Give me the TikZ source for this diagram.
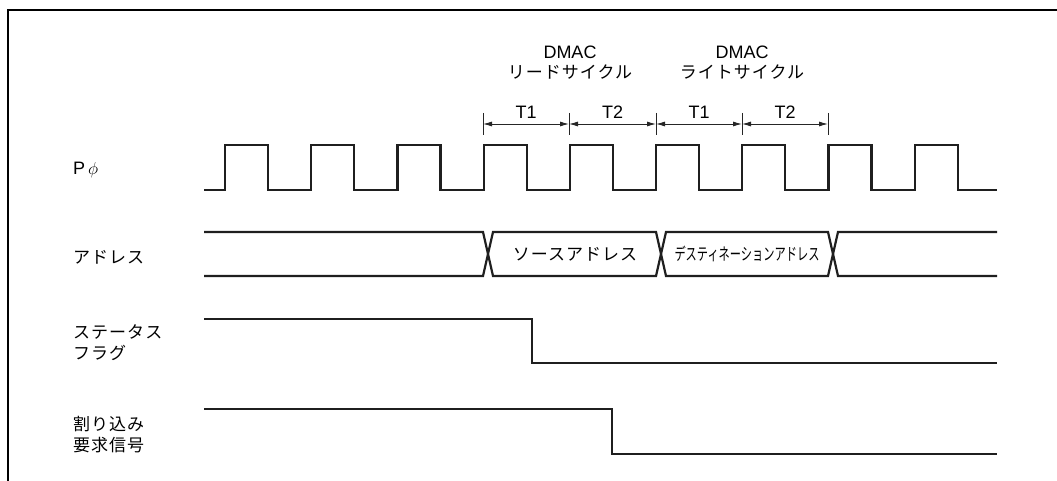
\documentclass[tikz,border=0pt]{standalone}
\usepackage{fontspec}
\usepackage{graphicx}
\setmainfont{Liberation Sans}
\newfontfamily\jpfont{Noto Sans CJK JP}[LetterSpace=6]
\newfontfamily\jpnarrow{Noto Sans CJK JP}
\usetikzlibrary{arrows.meta,positioning}

\begin{document}
\begin{tikzpicture}[
    x=1pt, y=-1pt,
    font=\fontsize{18}{21}\selectfont,
    sig/.style={line width=2.2pt, draw=black!88},
    frm/.style={line width=2pt, draw=black},
    dimarr/.style={{Latex[length=9pt,width=5pt]}-{Latex[length=9pt,width=5pt]},
      line width=0.9pt, draw=black!85},
    tickmark/.style={line width=0.9pt, draw=black!85},
    lbl/.style={anchor=west, align=left, inner sep=0pt,
      font=\jpfont\fontsize{17}{21}\selectfont},
    jp/.style={inner sep=0pt, font=\jpfont\fontsize{17}{21}\selectfont},
    lat/.style={inner sep=0pt, font=\fontsize{18}{21}\selectfont}
  ]
    \useasboundingbox (0,0) rectangle (1057,481);
    \draw[frm] (1057,10) -- (8,10) -- (8,481);

    % signal names
    \node[lat, anchor=west] (phi) at (73,170) {P\,$\phi$};
    \node[lbl] (adr) at (73,257) {アドレス};
    \node[lbl] (stf) at (73,342.5) {ステータス\\フラグ};
    \node[lbl] (irq) at (73,435) {割り込み\\要求信号};

    % cycle headers
    \node[lat] (rdm) at (570,52) {DMAC};
    \node[jp, below=6pt of rdm] (rdc) {リードサイクル};
    \node[lat] (wrm) at (742,52) {DMAC};
    \node[jp, below=6pt of wrm] (wrc) {ライトサイクル};

    % state marks T1/T2
    \foreach \i/\x in {0/483,1/569,2/656,3/742,4/828}{
      \coordinate (t\i) at (\x,124);
      \draw[tickmark] (\x,113) -- (\x,135);
    }
    \draw[dimarr] (t0) -- node[lat, above=5pt] (s1) {T1} (t1);
    \draw[dimarr] (t1) -- node[lat, above=5pt] (s2) {T2} (t2);
    \draw[dimarr] (t2) -- node[lat, above=5pt] (s3) {T1} (t3);
    \draw[dimarr] (t3) -- node[lat, above=5pt] (s4) {T2} (t4);

    % clock
    \draw[sig] (204,190) \foreach \k in {0,...,8}{
        -- ({225+86.2*\k},190) -- ++(0,-45) -- ++(43,0) -- ++(0,45)} -- (997,190);

    % address bus
    \draw[sig] (204,232) -- (483,232) -- (493,276) -- (656,276) -- (666,232)
      -- (828,232) -- (838,276) -- (997,276);
    \draw[sig] (204,276) -- (483,276) -- (493,232) -- (656,232) -- (666,276)
      -- (828,276) -- (838,232) -- (997,232);
    \node[jp] (src) at (575,254) {ソースアドレス};
    \node[jp, font=\jpnarrow\fontsize{17}{21}\selectfont] (dst) at (747,254)
      {\scalebox{0.66}[1]{デスティネーションアドレス}};

    % status flag and interrupt request
    \draw[sig] (204,319) -- (532,319) -- (532,363) -- (997,363);
    \draw[sig] (204,409) -- (612,409) -- (612,454) -- (997,454);
  \end{tikzpicture}
\end{document}
